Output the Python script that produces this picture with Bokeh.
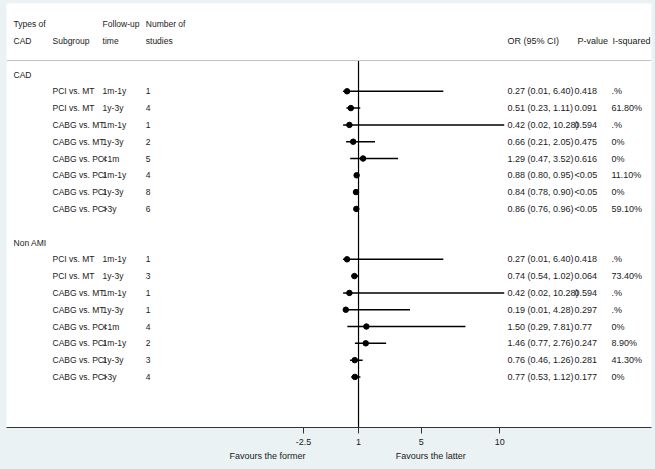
from bokeh.plotting import figure
from bokeh.models import Range1d, FixedTicker, LinearAxis, ColumnDataSource, Span
from bokeh.embed import file_html
from bokeh.resources import INLINE
from bokeh.core.properties import value

# ---------------- data ----------------
group_names = ["CAD", "Non AMI"]
subgroups = ["PCI vs. MT", "PCI vs. MT", "CABG vs. MT", "CABG vs. MT",
             "CABG vs. PCI", "CABG vs. PCI", "CABG vs. PCI", "CABG vs. PCI"]
followup = ["1m-1y", "1y-3y", "1m-1y", "1y-3y", "<1m", "1m-1y", "1y-3y", ">3y"]

cad_n = [1, 4, 1, 2, 5, 4, 8, 6]
cad_or = [0.27, 0.51, 0.42, 0.66, 1.29, 0.88, 0.84, 0.86]
cad_lo = [0.01, 0.23, 0.02, 0.21, 0.47, 0.80, 0.78, 0.76]
cad_hi = [6.40, 1.11, 10.28, 2.05, 3.52, 0.95, 0.90, 0.96]
cad_p = ["0.418", "0.091", "0.594", "0.475", "0.616", "<0.05", "<0.05", "<0.05"]
cad_i2 = [".%", "61.80%", ".%", "0%", "0%", "11.10%", "0%", "59.10%"]

nonami_n = [1, 3, 1, 1, 4, 2, 3, 4]
nonami_or = [0.27, 0.74, 0.42, 0.19, 1.50, 1.46, 0.76, 0.77]
nonami_lo = [0.01, 0.54, 0.02, 0.01, 0.29, 0.77, 0.46, 0.53]
nonami_hi = [6.40, 1.02, 10.28, 4.28, 7.81, 2.76, 1.26, 1.12]
nonami_p = ["0.418", "0.064", "0.594", "0.297", "0.77", "0.247", "0.281", "0.177"]
nonami_i2 = [".%", "73.40%", ".%", ".%", "0%", "8.90%", "41.30%", "0%"]

header_left_1 = ["Types of", "Follow-up", "Number of"]
header_left_2 = ["CAD", "Subgroup", "time", "studies"]
header_right = ["OR (95% CI)", "P-value", "I-squared"]
tick_values = [-2.5, 1, 5, 10]
tick_labels = ["-2.5", "1", "5", "10"]
null_value = 1
favour_labels = ["Favours the former", "Favours the latter"]

# ---------------- layout (positions, in data units) ----------------
FONT = value("Liberation Sans")
FS_L = "8.5px"
FS_R = "9px"
TXT = "#1a1a1a"
col_type, col_sub, col_fu, col_n = -20.97, -18.49, -15.3, -12.55
col_or, col_p, col_i2 = 10.49, 14.76, 17.11
head_or, head_p, head_i2 = 10.49, 14.95, 17.18
favour_pos = [-4.8, 5.6]
y_h1, y_h2, y_sep = -2.98, -2.02, -0.83
y_bottom, y_top = 21.01, -4.226

p = figure(width=655, height=469, output_backend="svg", toolbar_location=None,
           x_range=Range1d(-21.42, 19.66), y_range=Range1d(y_bottom, y_top),
           y_axis_type=None, min_border_left=6, min_border_right=4,
           min_border_top=3, min_border_bottom=42)
p.grid.visible = False
p.outline_line_color = None
p.background_fill_color = "white"
p.border_fill_color = "#eaf2f3"

# header
p.text(x=[col_type, col_fu, col_n], y=[y_h1] * 3, text=header_left_1,
       text_font=FONT, text_font_size=FS_L, text_color=TXT, text_baseline="middle")
p.text(x=[col_type, col_sub, col_fu, col_n], y=[y_h2] * 4, text=header_left_2,
       text_font=FONT, text_font_size=FS_L, text_color=TXT, text_baseline="middle")
p.text(x=[head_or, head_p, head_i2], y=[y_h2] * 3, text=header_right,
       text_font=FONT, text_font_size=FS_R, text_color=TXT, text_baseline="middle")
p.add_layout(Span(location=y_sep, dimension="width", line_color="#c4c4c4", line_width=1))

# null line
p.segment(x0=[null_value], y0=[y_sep], x1=[null_value], y1=[y_bottom],
          line_color="black", line_width=1.2)

groups = [
    (cad_n, cad_or, cad_lo, cad_hi, cad_p, cad_i2),
    (nonami_n, nonami_or, nonami_lo, nonami_hi, nonami_p, nonami_i2),
]
for g, (ns, ors, los, his, ps, i2s) in enumerate(groups):
    base = 10 * g
    rows = [base + 1 + i for i in range(len(ors))]
    p.text(x=[col_type], y=[base], text=[group_names[g]], text_font=FONT,
           text_font_size=FS_L, text_color=TXT, text_baseline="middle")
    src = ColumnDataSource(dict(
        y=rows, sub=subgroups, fu=followup, n=[str(v) for v in ns],
        est=ors, lo=los, hi=his,
        ortxt=[f"{o:.2f} ({l:.2f}, {h:.2f})" for o, l, h in zip(ors, los, his)],
        p=ps, i2=i2s))
    for col, field, fs in [(col_sub, "sub", FS_L), (col_fu, "fu", FS_L), (col_n, "n", FS_L),
                           (col_or, "ortxt", FS_R), (col_p, "p", FS_R), (col_i2, "i2", FS_R)]:
        p.text(x=col, y="y", text=field, source=src, text_font=FONT,
               text_font_size=fs, text_color=TXT, text_baseline="middle")
    p.segment(x0="lo", y0="y", x1="hi", y1="y", source=src,
              line_color="black", line_width=1.5)
    p.scatter(x="est", y="y", source=src, size=5.5, color="black")

# x axis
ax = p.xaxis[0]
ax.ticker = FixedTicker(ticks=tick_values)
ax.major_label_overrides = {v: l for v, l in zip(tick_values, tick_labels)}
ax.minor_tick_line_color = None
ax.major_tick_in = 0
ax.major_tick_out = 6
ax.axis_line_color = "#333333"
ax.major_tick_line_color = "#333333"
ax.major_label_text_font = "Liberation Sans"
ax.major_label_text_font_size = FS_R
ax.major_label_text_color = TXT
ax.major_label_standoff = 5

# second (label-only) axis for the "Favours" captions
fav = LinearAxis(ticker=FixedTicker(ticks=favour_pos),
                 major_label_overrides={v: l for v, l in zip(favour_pos, favour_labels)})
fav.axis_line_color = None
fav.major_tick_line_color = None
fav.minor_tick_line_color = None
fav.major_tick_in = 0
fav.major_tick_out = 0
fav.major_label_standoff = 3
fav.major_label_text_font = "Liberation Sans"
fav.major_label_text_font_size = FS_R
fav.major_label_text_color = TXT
p.add_layout(fav, "below")

html = file_html(p, INLINE, title="forest plot")
html = html.replace("<head>", "<head><style>body{background:#eaf2f3}</style>", 1)
open("out.html", "w").write(html)
